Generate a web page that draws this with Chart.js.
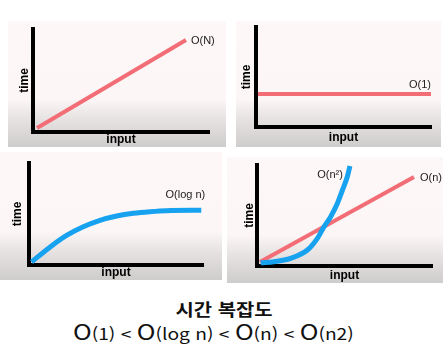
<!DOCTYPE html>
<html lang="ko">
<head>
    <meta charset="UTF-8">
    <title>시간 복잡도</title>
    <style>
        body {
            margin: 0;
            width: 448px;
            height: 362px;
            background: #ffffff;
            position: relative;
            overflow: hidden;
        }
        .panel {
            position: absolute;
            background: linear-gradient(to bottom, #fdf7f7 0%, #fcf6f6 62%, #e4e0e0 80%, #cfcccc 100%);
        }
        .panel canvas {
            display: block;
        }
        #title {
            position: absolute;
            left: 0;
            width: 448px;
            top: 298px;
            text-align: center;
            font-family: "Noto Sans CJK KR", sans-serif;
            font-weight: bold;
            font-size: 17px;
            line-height: 22px;
            color: #111;
            transform: scaleX(1.17);
        }
        #order {
            position: absolute;
            left: 73px;
            top: 319px;
            font-family: "Noto Sans CJK KR", sans-serif;
            font-size: 16px;
            line-height: 24px;
            color: #111;
            white-space: nowrap;
            transform-origin: left center;
            transform: scaleX(1.2);
        }
        #order .o {
            font-size: 21px;
        }
    </style>
    <script src="https://cdn.jsdelivr.net/npm/chart.js"></script>
</head>
<body>

    <div class="panel" id="p1" style="left:8px; top:21px;"><canvas id="c1"></canvas></div>
    <div class="panel" id="p2" style="left:236px; top:21px;"><canvas id="c2"></canvas></div>
    <div class="panel" id="p3" style="left:0px; top:152px;"><canvas id="c3"></canvas></div>
    <div class="panel" id="p4" style="left:227px; top:157px;"><canvas id="c4"></canvas></div>

    <div id="title">시간 복잡도</div>
    <div id="order"><span class="o">O</span>(1) &lt; <span class="o">O</span>(log n) &lt; <span class="o">O</span>(n) &lt; <span class="o">O</span>(n2)</div>

    <script>
        // data (input vs time, 0..100 on both axes)
        const linearX = [2.3, 86.9];
        const linearY = [3.9, 89.3];

        const constX = [1.1, 100];
        const constY = [33, 33];

        const logX = [1.5, 12, 21.6, 31.2, 40.8, 50.4, 60, 69.5, 79, 99];
        const logY = [3, 17.5, 29, 37.5, 43.8, 48, 50.7, 52.3, 53.3, 53.6];

        const nX = [1.7, 89.7];
        const nY = [4, 88];

        const n2X = [2.1, 9.7, 19.2, 28.8, 34.5, 38.3, 42.1, 45.9, 48.8, 51.6, 53.1];
        const n2Y = [3.3, 4.3, 7.6, 15.8, 27.4, 38.9, 48.8, 62, 75, 88.4, 99];

        const RED = '#f26d75';
        const BLUE = '#16a2ef';

        function pts(xs, ys) {
            return xs.map((x, i) => ({ x: x, y: ys[i] }));
        }

        // writes the dataset label next to the last point
        const endLabel = {
            id: 'endLabel',
            afterDatasetsDraw(chart) {
                const ctx = chart.ctx;
                chart.data.datasets.forEach((ds, i) => {
                    if (!ds.tag) return;
                    const meta = chart.getDatasetMeta(i);
                    const last = meta.data[meta.data.length - 1];
                    ctx.save();
                    ctx.font = '11px "Liberation Sans", sans-serif';
                    ctx.fillStyle = '#222';
                    ctx.textAlign = ds.tag.align;
                    ctx.textBaseline = 'middle';
                    ctx.fillText(ds.label, last.x + ds.tag.dx, last.y + ds.tag.dy);
                    ctx.restore();
                });
            }
        };

        // box = size of panel, axes position inside it, and where the axis titles sit
        function makeChart(id, box, datasets) {
            const canvas = document.getElementById(id);
            canvas.parentNode.style.width = box.W + 'px';
            canvas.parentNode.style.height = box.H + 'px';
            canvas.width = box.W;
            canvas.height = box.H;

            const half = 7.2;
            const padLeft = Math.max(0, box.timeX - half);
            const padBottom = Math.max(0, box.H - box.inputY - half);
            const yWidth = box.L - padLeft;
            const xHeight = box.H - padBottom - box.B;

            const axisTitle = (text) => ({
                display: true,
                text: text,
                color: '#000',
                padding: 0,
                font: { family: '"Liberation Sans", Arial, sans-serif', size: 12, weight: 'bold' }
            });

            return new Chart(canvas, {
                type: 'line',
                data: { datasets: datasets },
                options: {
                    responsive: false,
                    animation: false,
                    events: [],
                    layout: {
                        padding: { left: padLeft, top: box.T, right: box.W - box.R, bottom: padBottom }
                    },
                    plugins: {
                        legend: { display: false },
                        tooltip: { enabled: false }
                    },
                    elements: {
                        point: { radius: 0 },
                        line: { borderCapStyle: 'butt' }
                    },
                    scales: {
                        x: {
                            type: 'linear',
                            min: 0,
                            max: 100,
                            ticks: { display: false },
                            grid: { display: false },
                            border: { display: true, color: '#000', width: 4 },
                            title: axisTitle('input'),
                            afterFit(s) { s.height = xHeight; }
                        },
                        y: {
                            type: 'linear',
                            min: 0,
                            max: 100,
                            ticks: { display: false },
                            grid: { display: false },
                            border: { display: true, color: '#000', width: 4 },
                            title: axisTitle('time'),
                            afterFit(s) { s.width = yWidth; }
                        }
                    }
                },
                plugins: [endLabel]
            });
        }

        makeChart('c1', { W: 218, H: 126, L: 25, T: 8, R: 201, B: 111, timeX: 17, inputY: 119 }, [
            { label: 'O(N)', data: pts(linearX, linearY), borderColor: RED, borderWidth: 4, clip: false,
              tag: { align: 'left', dx: 5, dy: 1 } }
        ]);

        makeChart('c2', { W: 205, H: 126, L: 20, T: 6, R: 195, B: 106, timeX: 11, inputY: 117 }, [
            { label: 'O(1)', data: pts(constX, constY), borderColor: RED, borderWidth: 4, clip: false,
              tag: { align: 'right', dx: 0, dy: -9 } }
        ]);

        makeChart('c3', { W: 222, H: 128, L: 29, T: 11, R: 203, B: 113, timeX: 18, inputY: 122 }, [
            { label: 'O(log n)', data: pts(logX, logY), borderColor: BLUE, borderWidth: 5, clip: false,
              cubicInterpolationMode: 'monotone', tag: { align: 'right', dx: 4, dy: -15 } }
        ]);

        makeChart('c4', { W: 216, H: 126, L: 30, T: 8, R: 205, B: 109, timeX: 23, inputY: 119 }, [
            { label: 'O(n²)', data: pts(n2X, n2Y), borderColor: BLUE, borderWidth: 5, clip: false,
              cubicInterpolationMode: 'monotone', tag: { align: 'right', dx: -7, dy: 9 } },
            { label: 'O(n)', data: pts(nX, nY), borderColor: RED, borderWidth: 4, clip: false,
              tag: { align: 'left', dx: 6, dy: 1 } }
        ]);
    </script>

</body>
</html>
